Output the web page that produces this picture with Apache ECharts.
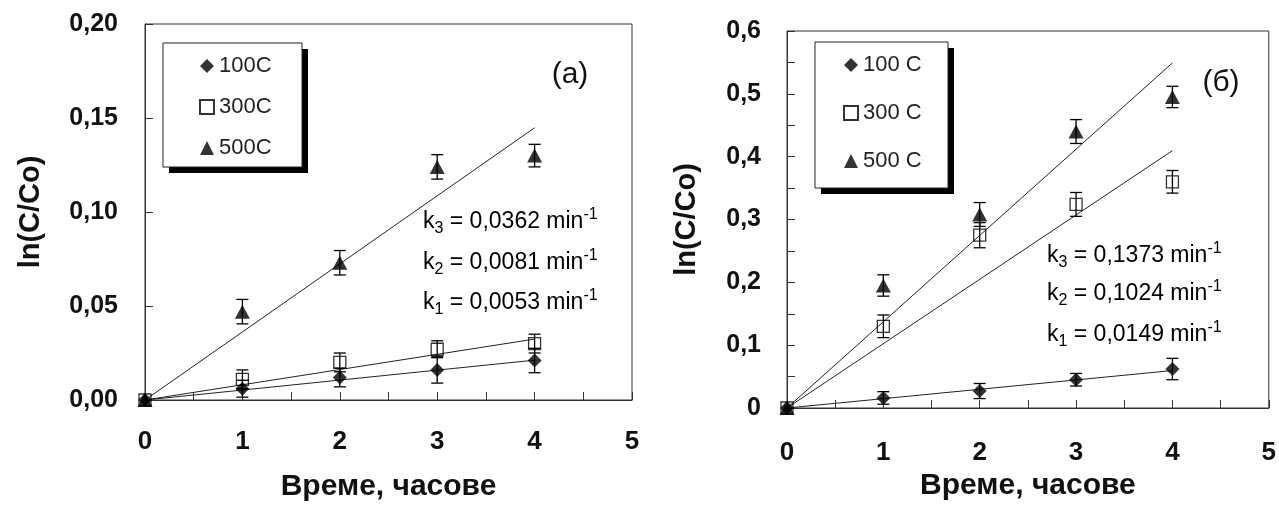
<!DOCTYPE html>
<html>
<head>
<meta charset="utf-8">
<script src="https://cdn.jsdelivr.net/npm/echarts@6/dist/echarts.min.js"></script>
<style>
  html, body { margin: 0; padding: 0; background: #fff; }
  #chart { width: 1279px; height: 512px; }
</style>
</head>
<body>
<div id="chart"></div>
<script>
// Time points, hours
const timeHours = [0, 1, 2, 3, 4];
const xTickLabels = ['0', '1', '2', '3', '4', '5'];

// Panel (a)
const namesA = ['100C', '300C', '500C'];
const a100 = [0, 0.006, 0.012, 0.016, 0.021];
const a100Err = [0, 0.0045, 0.005, 0.007, 0.0065];
const a300 = [0, 0.011, 0.020, 0.027, 0.030];
const a300Err = [0, 0.005, 0.005, 0.0045, 0.005];
const a500 = [0, 0.047, 0.073, 0.124, 0.130];
const a500Err = [0, 0.0065, 0.0065, 0.0065, 0.006];
const slopesA = [0.0053, 0.0081, 0.0362];   // k1, k2, k3

// Panel (б)
const namesB = ['100 C', '300 C', '500 C'];
const b100 = [0, 0.016, 0.027, 0.045, 0.062];
const b100Err = [0, 0.010, 0.012, 0.010, 0.017];
const b300 = [0, 0.130, 0.275, 0.324, 0.360];
const b300Err = [0, 0.018, 0.020, 0.019, 0.018];
const b500 = [0, 0.195, 0.308, 0.440, 0.495];
const b500Err = [0, 0.017, 0.019, 0.019, 0.017];
const slopesB = [0.0149, 0.1024, 0.1373];

// Fitted lines run over this time range
const fitRange = [0, 4];

const FONT = '"Liberation Sans", Arial, sans-serif';
const INK = '#111';

const symbols = ['diamond', 'rect', 'triangle'];
const symbolSizes = [14, 12, [15, 14]];
function markerStyle(i) {
  return i === 1
    ? { color: 'rgba(255,255,255,0)', borderColor: '#000', borderWidth: 1.3 }
    : { color: '#000', borderColor: '#000', borderWidth: 0 };
}

function pairs(ys) { return timeHours.map((t, i) => [t, ys[i]]); }
function errRows(ys, es) { return timeHours.map((t, i) => [t, ys[i] - es[i], ys[i] + es[i]]); }

function errorBarSeries(ys, es, axisIdx) {
  return {
    type: 'custom',
    xAxisIndex: axisIdx, yAxisIndex: axisIdx,
    silent: true, z: 1,
    data: errRows(ys, es),
    renderItem: function (params, api) {
      const x = api.value(0), lo = api.value(1), hi = api.value(2);
      if (hi - lo <= 0) return null;
      const pLo = api.coord([x, lo]), pHi = api.coord([x, hi]);
      const w = 6;
      const st = { stroke: '#000', lineWidth: 1.3 };
      return {
        type: 'group',
        children: [
          { type: 'line', shape: { x1: pLo[0], y1: pLo[1], x2: pHi[0], y2: pHi[1] }, style: st },
          { type: 'line', shape: { x1: pLo[0] - w, y1: pLo[1], x2: pLo[0] + w, y2: pLo[1] }, style: st },
          { type: 'line', shape: { x1: pHi[0] - w, y1: pHi[1], x2: pHi[0] + w, y2: pHi[1] }, style: st }
        ]
      };
    }
  };
}

function fitLine(k, axisIdx) {
  return {
    type: 'line',
    xAxisIndex: axisIdx, yAxisIndex: axisIdx,
    silent: true, z: 2,
    showSymbol: false, symbol: 'none',
    lineStyle: { color: '#222', width: 1 },
    data: fitRange.map(t => [t, k * t])
  };
}

function pointSeries(name, ys, i, axisIdx) {
  return {
    type: 'scatter', name: name,
    xAxisIndex: axisIdx, yAxisIndex: axisIdx, z: 3,
    symbol: symbols[i], symbolSize: symbolSizes[i],
    itemStyle: markerStyle(i),
    data: pairs(ys)
  };
}

const series = [];
[[a100, a100Err], [a300, a300Err], [a500, a500Err]].forEach(([ys, es]) => {
  series.push(errorBarSeries(ys, es, 0));
});
slopesA.forEach(k => series.push(fitLine(k, 0)));
[a100, a300, a500].forEach((ys, i) => series.push(pointSeries(namesA[i], ys, i, 0)));

[[b100, b100Err], [b300, b300Err], [b500, b500Err]].forEach(([ys, es]) => {
  series.push(errorBarSeries(ys, es, 1));
});
slopesB.forEach(k => series.push(fitLine(k, 1)));
[b100, b300, b500].forEach((ys, i) => series.push(pointSeries(namesB[i], ys, i, 1)));

function xAxisCfg(gridIndex, labelMargin, nameGap) {
  return {
    type: 'value', gridIndex: gridIndex,
    min: 0, max: 5, interval: 0.5,
    name: 'Време, часове', nameLocation: 'middle', nameGap: nameGap,
    nameTextStyle: { fontFamily: FONT, fontWeight: 'bold', fontSize: 30, color: INK },
    axisLine: { show: true, lineStyle: { color: '#333', width: 1 } },
    axisTick: { show: true, inside: true, length: 8, lineStyle: { color: '#333' } },
    splitLine: { show: false },
    axisLabel: {
      margin: labelMargin, fontFamily: FONT, fontWeight: 'bold', fontSize: 26, color: INK,
      formatter: v => (Math.abs(v - Math.round(v)) < 1e-9 ? xTickLabels[Math.round(v)] : '')
    }
  };
}

function yAxisCfg(gridIndex, max, labelEvery, digits, labelMargin, nameGap) {
  return {
    type: 'value', gridIndex: gridIndex,
    min: 0, max: max, interval: 0.05,
    name: 'ln(C/Co)', nameLocation: 'middle', nameGap: nameGap, nameRotate: 90,
    nameTextStyle: { fontFamily: FONT, fontWeight: 'bold', fontSize: 29, color: INK },
    axisLine: { show: true, lineStyle: { color: '#333', width: 1 } },
    axisTick: { show: true, inside: true, length: 8, lineStyle: { color: '#333' } },
    splitLine: { show: false },
    axisLabel: {
      margin: labelMargin, fontFamily: FONT, fontWeight: 'bold', fontSize: 25, color: INK,
      formatter: function (v) {
        const steps = Math.round(v / labelEvery * 1000) / 1000;
        if (Math.abs(steps - Math.round(steps)) > 1e-6) return '';
        if (Math.abs(v) < 1e-9 && digits === 1) return '0';
        return v.toFixed(digits).replace('.', ',');
      }
    }
  };
}

function fmt(k) { return k.toFixed(4).replace('.', ','); }
function kText(idx, k) {
  return '{k|k}{s|' + idx + '}{t| = ' + fmt(k) + ' min}{p|-1}';
}
const richK = {
  k: { fontFamily: FONT, fontSize: 23, color: '#222', lineHeight: 30 },
  t: { fontFamily: FONT, fontSize: 23, color: '#222', lineHeight: 30 },
  s: { fontFamily: FONT, fontSize: 16, color: '#222', lineHeight: 15, verticalAlign: 'bottom' },
  p: { fontFamily: FONT, fontSize: 16, color: '#222', lineHeight: 15, verticalAlign: 'top' }
};

function kLabels(slopes, x, ys) {
  // k3 on top, then k2, then k1
  return [2, 1, 0].map((i, row) => ({
    type: 'text', x: x, y: ys[row], z: 5,
    style: { text: kText(i + 1, slopes[i]), rich: richK, verticalAlign: 'middle', align: 'left' }
  }));
}

// Framed legend box with a solid drop shadow
function legendFrame(x, y, w, h) {
  return [
    { type: 'rect', z: 1, silent: true, shape: { x: x + 6, y: y + 6, width: w, height: h }, style: { fill: '#000' } },
    { type: 'rect', z: 2, silent: true, shape: { x: x, y: y, width: w, height: h }, style: { fill: '#fff', stroke: '#222', lineWidth: 1 } }
  ];
}

function legendCfg(names, left, top, padding, gap) {
  return {
    data: names, orient: 'vertical', left: left, top: top, z: 10,
    padding: padding, itemGap: gap, itemWidth: 14, itemHeight: 14,
    selectedMode: false,
    textStyle: { fontFamily: FONT, fontSize: 22, color: '#222' }
  };
}

const chart = echarts.init(document.getElementById('chart'), null, { renderer: 'canvas' });
chart.setOption({
  backgroundColor: '#fff',
  animation: false,
  grid: [
    { left: 145, top: 24, width: 487, height: 376, show: true, borderColor: '#333', borderWidth: 1, containLabel: false },
    { left: 787, top: 31, width: 482, height: 377, show: true, borderColor: '#333', borderWidth: 1, containLabel: false }
  ],
  xAxis: [xAxisCfg(0, 29, 72), xAxisCfg(1, 32, 60)],
  yAxis: [yAxisCfg(0, 0.2, 0.05, 2, 27, 100), yAxisCfg(1, 0.6, 0.1, 1, 26, 86)],
  legend: [
    legendCfg(namesA, 163, 43, [12, 30, 12, 36], 19),
    legendCfg(namesB, 815, 42, [12, 26, 18, 28], 26)
  ],
  graphic: legendFrame(163, 43, 139, 124).concat(legendFrame(815, 42, 133, 146), [
    { type: 'text', x: 570, y: 75, style: { text: '(a)', fontFamily: FONT, fontSize: 30, fill: '#111', align: 'center', verticalAlign: 'middle' } },
    { type: 'text', x: 1221, y: 83, style: { text: '(б)', fontFamily: FONT, fontSize: 30, fill: '#111', align: 'center', verticalAlign: 'middle' } }
  ], kLabels(slopesA, 423, [222, 263, 303]), kLabels(slopesB, 1047, [256, 294, 335])),
  series: series
});
</script>
</body>
</html>
